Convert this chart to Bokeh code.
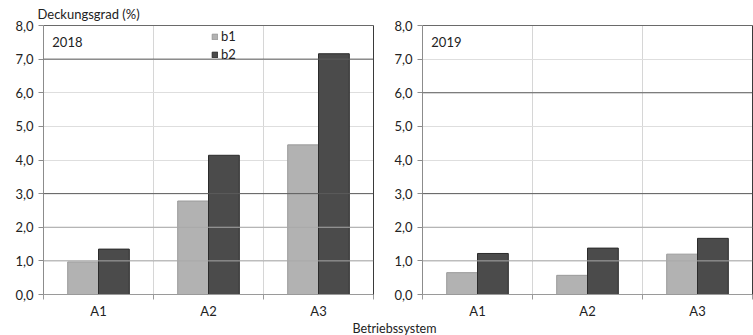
from bokeh.plotting import figure
from bokeh.layouts import column, row
from bokeh.models import (ColumnDataSource, FixedTicker, LinearAxis, Range1d,
                          Span, Label, Legend, LegendItem, Title)
from bokeh.embed import file_html
from bokeh.resources import INLINE

# Deckungsgrad (%) je Betriebssystem, zwei Jahre, zwei Varianten
categories = ["A1", "A2", "A3"]
b1_2018 = [0.97, 2.78, 4.45]
b2_2018 = [1.35, 4.14, 7.16]
b1_2019 = [0.65, 0.57, 1.20]
b2_2019 = [1.22, 1.38, 1.67]
y_ticks = [0, 1, 2, 3, 4, 5, 6, 7, 8]

FONT = "Lato"
FS = "13px"
C_B1, C_B1_LINE = "#b2b2b2", "#9a9a9a"
C_B2, C_B2_LINE = "#4b4b4b", "#2b2b2b"
GRID_LIGHT, GRID_MID, GRID_DARK = "#dedede", "#a8a8a8", "#5c5c5c"
PANEL_H = 321


def make_panel(year, b1, b2, width, border_left, border_right, border_top,
               dark_lines, mid_lines, show_legend, title_text=None):
    pos = [i + 0.5 for i in range(len(categories))]
    src = ColumnDataSource(dict(
        x1=[p - 0.14 for p in pos], x2=[p + 0.14 for p in pos], b1=b1, b2=b2))

    p = figure(width=width, height=PANEL_H, output_backend="svg",
               toolbar_location=None, x_range=Range1d(0, len(categories)),
               y_range=Range1d(0, 8),
               min_border_left=border_left, min_border_right=border_right,
               min_border_top=border_top, min_border_bottom=20)
    p.outline_line_color = None
    p.background_fill_color = "white"
    p.border_fill_color = "white"

    if title_text:
        p.title = Title(text=title_text, align="left", offset=-6, standoff=7,
                        text_font=FONT, text_font_size=FS, text_font_style="normal",
                        text_color="#222222")

    # y axis
    p.yaxis.ticker = FixedTicker(ticks=y_ticks)
    p.yaxis.major_label_overrides = {t: f"{t:.1f}".replace(".", ",") for t in y_ticks}
    p.yaxis.axis_line_color = "#8c8c8c"
    p.yaxis.major_tick_line_color = "#8c8c8c"
    p.yaxis.major_tick_out = 5
    p.yaxis.major_tick_in = 0
    p.yaxis.minor_tick_line_color = None
    p.yaxis.major_label_standoff = 5
    p.yaxis.major_label_text_font = FONT
    p.yaxis.major_label_text_font_size = FS
    p.yaxis.major_label_text_color = "#222222"

    # x axis: labels at category centres, ticks at the boundaries
    p.xaxis.ticker = FixedTicker(ticks=pos, minor_ticks=list(range(len(categories) + 1)))
    p.xaxis.major_label_overrides = {pv: c for pv, c in zip(pos, categories)}
    p.xaxis.axis_line_color = "#9a9a9a"
    p.xaxis.major_tick_line_color = None
    p.xaxis.minor_tick_line_color = "#9a9a9a"
    p.xaxis.minor_tick_out = 5
    p.xaxis.minor_tick_in = 0
    p.xaxis.major_label_standoff = 2
    p.xaxis.major_label_text_font = FONT
    p.xaxis.major_label_text_font_size = FS
    p.xaxis.major_label_text_color = "#222222"

    # grid
    p.xgrid.ticker = FixedTicker(ticks=list(range(1, len(categories))))
    p.xgrid.grid_line_color = "#d6d6d6"
    p.ygrid.ticker = FixedTicker(ticks=y_ticks)
    p.ygrid.grid_line_color = GRID_LIGHT
    for v in mid_lines:
        p.add_layout(Span(location=v, dimension="width", line_color=GRID_MID, line_width=1))
    for v in dark_lines:
        p.add_layout(Span(location=v, dimension="width", line_color=GRID_DARK, line_width=1))

    # frame borders on top and right
    for side, col in (("above", "#6a6a6a"), ("right", "#3a3a3a")):
        ax = LinearAxis(ticker=FixedTicker(ticks=[]), major_label_text_font_size="0px",
                        axis_line_color=col, major_tick_line_color=None,
                        minor_tick_line_color=None, major_label_standoff=0)
        p.add_layout(ax, side)

    r1 = p.vbar(x="x1", top="b1", width=0.28, source=src, fill_color=C_B1,
                line_color=C_B1_LINE, line_width=1)
    r2 = p.vbar(x="x2", top="b2", width=0.28, source=src, fill_color=C_B2,
                line_color=C_B2_LINE, line_width=1)

    p.add_layout(Label(x=0.08, y=7.5, text=year, text_font=FONT, text_font_size=FS,
                       text_color="#222222", text_baseline="middle"))

    if show_legend:
        leg = Legend(items=[LegendItem(label="b1", renderers=[r1]),
                            LegendItem(label="b2", renderers=[r2])],
                     location=(168, 232), orientation="vertical",
                     label_text_font=FONT, label_text_font_size=FS,
                     label_text_color="#222222", glyph_width=7, glyph_height=7,
                     label_height=12, label_standoff=3, spacing=2, padding=0,
                     margin=0, border_line_color=None, background_fill_alpha=0)
        p.add_layout(leg, "center")
    return p


left = make_panel("2018", b1_2018, b2_2018, 385, 43, 12, 24, [7, 3], [2, 1], True,
                  title_text="Deckungsgrad (%)")
right = make_panel("2019", b1_2019, b2_2019, 368, 37, 1, 22, [6, 3], [2, 1], False)

bottom = figure(width=753, height=335 - PANEL_H, output_backend="svg",
                toolbar_location=None, min_border=0,
                x_range=Range1d(0, 1), y_range=Range1d(0, 1))
bottom.axis.visible = False
bottom.grid.visible = False
bottom.outline_line_color = None
bottom.add_layout(Label(x=394, y=7, x_units="canvas", y_units="canvas", text="Betriebssystem",
                        text_font=FONT, text_font_size="12.5px", text_color="#222222",
                        text_align="center", text_baseline="middle"))

layout = column(row(left, right, spacing=0), bottom, spacing=0)
open("out.html", "w").write(file_html(layout, INLINE))
